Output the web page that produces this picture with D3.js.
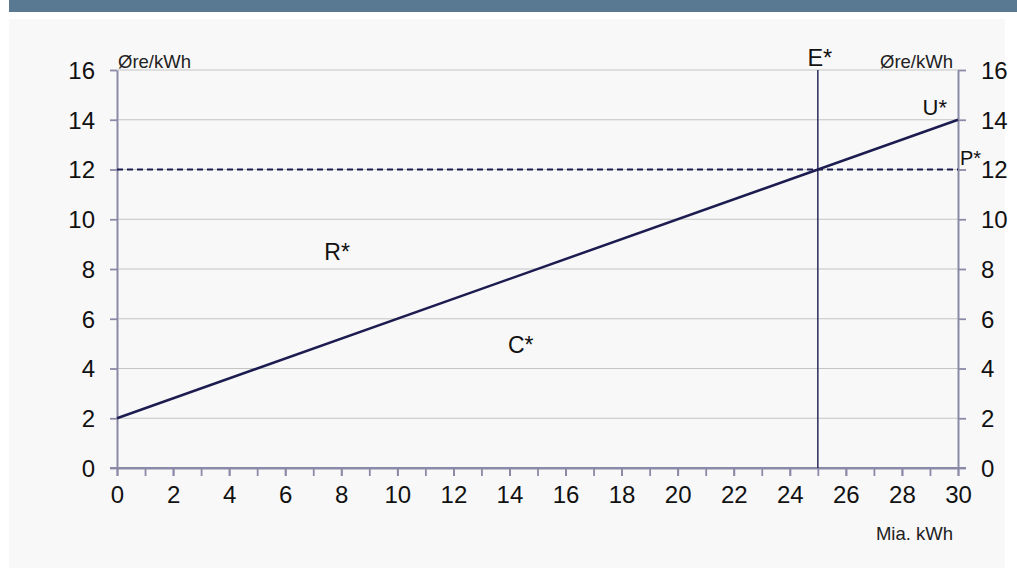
<!DOCTYPE html>
<html><head><meta charset="utf-8">
<script src="https://cdn.jsdelivr.net/npm/d3@7"></script>
<style>body{margin:0;background:#fff}svg{display:block}svg text{font-family:"Liberation Sans",Arial,sans-serif}</style>
</head><body><svg id="c" width="1017" height="574"></svg>
<script>
const xTicks = [0,2,4,6,8,10,12,14,16,18,20,22,24,26,28,30];
const xMinor = d3.range(0,31,1);
const yTicks = [0,2,4,6,8,10,12,14,16];
const supplyX = [0, 30];
const supplyY = [2, 14];
const priceLevel = 12;
const eqQuantity = 25;
const labels = [
  {t:"E*", x:25, y:16.15, anchor:"middle", size:23.5, dx:2},
  {t:"U*", x:29.1, y:14.2, anchor:"middle", size:22, dx:2},
  {t:"P*", x:30, y:12.2, anchor:"start", size:20, dx:2},
  {t:"R*", x:7.85, y:8.36, anchor:"middle", size:23, dx:0},
  {t:"C*", x:14.4, y:4.62, anchor:"middle", size:23, dx:0}
];

const svg = d3.select("#c");
svg.append("rect").attr("x",9).attr("y",0).attr("width",1008).attr("height",12).attr("fill","#587991");
svg.append("rect").attr("x",9).attr("y",19).attr("width",996).attr("height",549).attr("fill","#f9f8f9");

const x = d3.scaleLinear().domain([0,30]).range([117,958]);
const y = d3.scaleLinear().domain([0,16]).range([468,70]);

svg.append("g").selectAll("line").data(yTicks.filter(d=>d>0)).join("line")
  .attr("x1",x(0)).attr("x2",x(30)).attr("y1",d=>y(d)).attr("y2",d=>y(d))
  .attr("stroke","#c4c4c4").attr("stroke-width",1.2);

const axisColor = "#8a8aa8";
const gl = svg.append("g").attr("transform",`translate(${x(0)},0)`)
  .call(d3.axisLeft(y).tickValues(yTicks).tickSize(7).tickPadding(15).tickSizeOuter(0));
const gr = svg.append("g").attr("transform",`translate(${x(30)},0)`)
  .call(d3.axisRight(y).tickValues(yTicks).tickSize(8).tickPadding(15).tickSizeOuter(0));
const gbm = svg.append("g").attr("transform",`translate(0,${y(0)})`)
  .call(d3.axisBottom(x).tickValues(xMinor).tickSize(8).tickFormat("").tickSizeOuter(0));
const gb = svg.append("g").attr("transform",`translate(0,${y(0)})`)
  .call(d3.axisBottom(x).tickValues(xTicks).tickSize(8).tickPadding(10).tickSizeOuter(0));
gbm.select(".domain").remove();
[gl,gr,gb,gbm].forEach(g=>{
  g.attr("font-family",null).attr("font-size",null);
  g.selectAll(".domain").attr("stroke",axisColor).attr("stroke-width",2);
  g.selectAll(".tick line").attr("stroke",axisColor).attr("stroke-width",1.8);
  g.selectAll("text").style("font-size","24px").attr("fill","#111");
});
gl.selectAll("text").attr("dy","0.35em");
gr.selectAll("text").attr("dy","0.35em");
gb.selectAll("text").attr("dy","0.71em");
svg.append("line").attr("x1",x(0)-7).attr("x2",x(30)+8).attr("y1",y(0)).attr("y2",y(0))
  .attr("stroke",axisColor).attr("stroke-width",2);

const line = d3.line().x(d=>x(d[0])).y(d=>y(d[1]));
svg.append("path").attr("d",line([[eqQuantity,0],[eqQuantity,16]]))
  .attr("stroke","#2a2a58").attr("stroke-width",1.5).attr("fill","none");
svg.append("path").attr("d",line([[0,priceLevel],[30,priceLevel]]))
  .attr("stroke","#1c1c50").attr("stroke-width",2).attr("stroke-dasharray","6,4").attr("fill","none");
svg.append("path").attr("d",line(supplyX.map((v,i)=>[v,supplyY[i]])))
  .attr("stroke","#1c1c50").attr("stroke-width",2.5).attr("fill","none");

svg.append("text").attr("x",x(0)+1).attr("y",68).style("font-size","18.5px").attr("fill","#222").text("Øre/kWh");
svg.append("text").attr("x",x(30)-5).attr("y",68).style("font-size","18.5px").attr("fill","#222").attr("text-anchor","end").text("Øre/kWh");
svg.append("text").attr("x",953).attr("y",540).style("font-size","18.5px").attr("fill","#222").attr("text-anchor","end").text("Mia. kWh");

svg.append("g").selectAll("text").data(labels).join("text")
  .attr("x",d=>x(d.x)+d.dx).attr("y",d=>y(d.y)).attr("text-anchor",d=>d.anchor)
  .style("font-size",d=>d.size+"px").attr("fill","#111").text(d=>d.t);
</script></body></html>
